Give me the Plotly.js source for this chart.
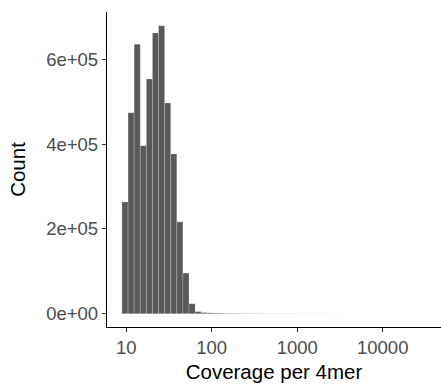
<!DOCTYPE html>
<html>
<head>
<meta charset="utf-8">
<script src="https://cdn.plot.ly/plotly-3.0.1.min.js"></script>
<style>
  html, body { margin: 0; padding: 0; background: #fff; }
  #chart { width: 441px; height: 387px; }
</style>
</head>
<body>
<div id="chart"></div>
<script>
// Histogram of 4-mer coverage, binned on a log10 scale.
// Left edge of the first bin and the common bin width, both in log10 units.
const firstBinLog10 = 0.95;
const binWidthLog10 = 0.0713;

// Counts per bin, from low coverage to high coverage.
const binCounts = [
  263500, 473600, 635000, 396000, 553600, 662000, 679000, 497000,
  376500, 216500, 95800, 23500, 5000,
  2800, 2000, 1500, 1200, 1000, 850, 700, 600, 520, 450, 400, 350,
  310, 280, 250, 220, 200, 180, 160, 140, 120, 100, 90, 80, 70, 60, 50
];

// Axis ticks (log10 positions and their labels).
const xTickLog10 = [1, 2, 3, 4];
const xTickLabels = ["10", "100", "1000", "10000"];
const yTickValues = [0, 200000, 400000, 600000];
const yTickLabels = ["0e+00", "2e+05", "4e+05", "6e+05"];

const binCenters = binCounts.map((_, i) => firstBinLog10 + binWidthLog10 * (i + 0.5));

const trace = {
  type: "bar",
  x: binCenters,
  y: binCounts,
  width: binWidthLog10,
  marker: {
    color: "#595959",
    line: { color: "rgba(255,255,255,0.35)", width: 0.6 }
  },
  hoverinfo: "skip"
};

const font = "Liberation Sans, Arial, Helvetica, sans-serif";

const layout = {
  width: 441,
  height: 387,
  margin: { l: 107, r: 0, t: 12, b: 60, pad: 0 },
  paper_bgcolor: "#ffffff",
  plot_bgcolor: "#ffffff",
  showlegend: false,
  bargap: 0,
  xaxis: {
    range: [0.775, 4.682],
    tickmode: "array",
    tickvals: xTickLog10,
    ticktext: xTickLabels,
    ticks: "outside",
    ticklen: 4,
    tickwidth: 1,
    tickcolor: "#333333",
    showline: true,
    linecolor: "#000000",
    linewidth: 1.2,
    showgrid: false,
    zeroline: false,
    tickfont: { family: font, size: 18.5, color: "#4D4D4D" },
    title: { text: "Coverage per 4mer", font: { family: font, size: 20.5, color: "#000000" }, standoff: 7 }
  },
  yaxis: {
    range: [-31300, 711300],
    tickmode: "array",
    tickvals: yTickValues,
    ticktext: yTickLabels,
    ticks: "outside",
    ticklen: 4,
    tickwidth: 1,
    tickcolor: "#333333",
    showline: true,
    linecolor: "#000000",
    linewidth: 1.2,
    showgrid: false,
    zeroline: false,
    tickfont: { family: font, size: 18.5, color: "#4D4D4D" },
    title: { text: "Count", font: { family: font, size: 20.5, color: "#000000" }, standoff: 15 }
  }
};

Plotly.newPlot("chart", [trace], layout, { staticPlot: true, displayModeBar: false });
</script>
</body>
</html>
